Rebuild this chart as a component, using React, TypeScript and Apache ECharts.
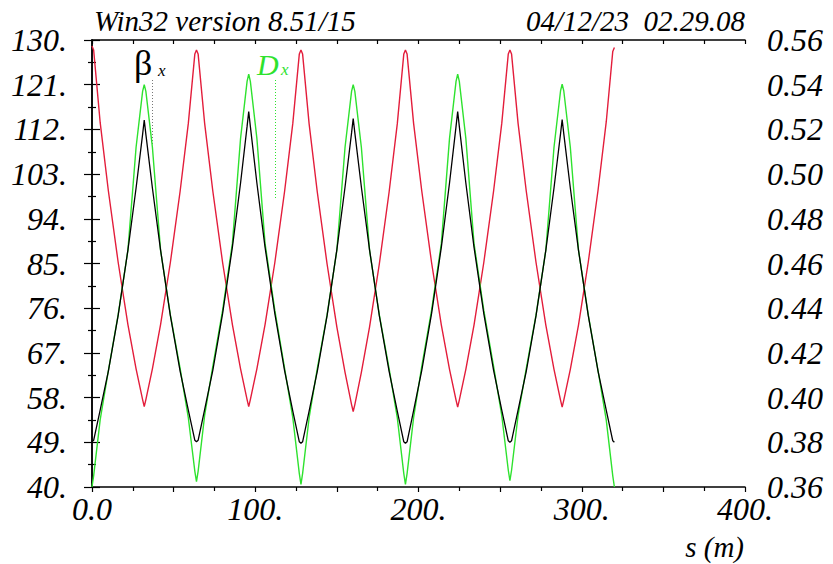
import React, { useEffect, useRef } from "react";
import * as echarts from "echarts";

// s positions (m)
const sPos = [
  0, 1, 5, 10, 16, 22, 27, 31,
  32, 33, 37, 42, 48, 54, 59, 63,
  64, 65, 69, 74, 80, 86, 91, 95,
  96, 97, 101, 106, 112, 118, 123, 127,
  128, 129, 133, 138, 144, 150, 155, 159,
  160, 161, 165, 170, 176, 182, 187, 191,
  192, 193, 197, 202, 208, 214, 219, 223,
  224, 225, 229, 234, 240, 246, 251, 255,
  256, 257, 261, 266, 272, 278, 283, 287,
  288, 289, 293, 298, 304, 310, 315, 319,
  320,
];

// beta_x (m) – black, left axis
const betaX = [
  49.1, 49.4, 55.5, 63.3, 74.5, 87.7, 100.2, 111.0,
  113.9, 111.0, 100.2, 87.7, 74.5, 63.3, 55.5, 49.4,
  49.1, 49.4, 55.6, 63.5, 74.9, 88.3, 101.2, 112.6,
  115.6, 112.6, 101.2, 88.3, 74.9, 63.4, 55.3, 49.1,
  48.8, 49.1, 55.3, 63.3, 74.5, 87.8, 100.4, 111.3,
  114.2, 111.3, 100.4, 87.8, 74.5, 63.3, 55.3, 49.1,
  48.8, 49.1, 55.4, 63.5, 74.9, 88.3, 101.2, 112.6,
  115.6, 112.6, 101.2, 88.3, 74.9, 63.5, 55.5, 49.3,
  49.0, 49.3, 55.5, 63.3, 74.5, 87.7, 100.2, 111.1,
  114.0, 111.1, 100.2, 87.7, 74.5, 63.3, 55.5, 49.3,
  49.0,
];

// beta_y (m) – red, left axis
const betaY = [
  128.8, 128.0, 113.4, 99.7, 85.3, 72.7, 63.8, 57.6,
  56.2, 57.6, 63.8, 72.7, 85.2, 99.6, 113.2, 127.2,
  128.0, 127.2, 113.2, 99.6, 85.2, 72.7, 63.8, 57.6,
  56.2, 57.6, 63.8, 72.7, 85.2, 99.6, 113.2, 127.2,
  128.0, 127.2, 113.1, 99.4, 84.9, 72.2, 63.1, 56.6,
  55.2, 56.6, 63.1, 72.2, 84.9, 99.4, 113.1, 127.2,
  128.0, 127.2, 113.2, 99.6, 85.2, 72.6, 63.7, 57.5,
  56.1, 57.5, 63.7, 72.6, 85.2, 99.6, 113.2, 127.2,
  128.0, 127.2, 113.2, 99.6, 85.2, 72.6, 63.7, 57.5,
  56.1, 57.5, 63.7, 72.6, 85.3, 99.8, 113.5, 127.7,
  128.5,
];

// D_x (m) – green, right axis
const dispX = [
  0.360, 0.365, 0.390, 0.412, 0.437, 0.466, 0.512, 0.537,
  0.540, 0.537, 0.512, 0.466, 0.437, 0.413, 0.391, 0.367,
  0.3624, 0.367, 0.392, 0.414, 0.439, 0.469, 0.516, 0.5415,
  0.5447, 0.5415, 0.516, 0.469, 0.439, 0.413, 0.391, 0.366,
  0.3612, 0.366, 0.391, 0.413, 0.437, 0.466, 0.512, 0.537,
  0.540, 0.537, 0.512, 0.466, 0.437, 0.413, 0.391, 0.366,
  0.3612, 0.366, 0.391, 0.414, 0.439, 0.469, 0.516, 0.5415,
  0.5447, 0.5415, 0.516, 0.469, 0.439, 0.414, 0.392, 0.3675,
  0.3628, 0.3675, 0.392, 0.413, 0.437, 0.466, 0.512, 0.5372,
  0.5402, 0.5372, 0.512, 0.466, 0.437, 0.412, 0.390, 0.365,
  0.360,
];

// left axis: labels 40..130 every 9
const leftMin = 40;
const leftStep = 9;
const leftSteps = 10;
const rightMin = 0.36;
const rightMax = 0.56;
const rightStep = 0.02;
const sMax = 400;

const FONT = '"Liberation Serif", "Times New Roman", serif';
const RED = "#e31d3b";
const GREEN = "#2ee22e";

export default function App() {
  const ref = useRef<HTMLDivElement>(null);
  useEffect(() => {
    if (!ref.current) return;
    const chart = echarts.init(ref.current, null, { renderer: "svg" });
    const labelStyle = {
      color: "#000",
      fontFamily: FONT,
      fontStyle: "italic" as const,
      fontSize: 32,
    };
    const axisLine = { show: true, lineStyle: { color: "#000", width: 1.5 } };
    const tickLine = { color: "#000", width: 1.2 };
    const option: any = {
      animation: false,
      backgroundColor: "#fff",
      grid: { left: 92, right: 88, top: 40, bottom: 77, containLabel: false },
      xAxis: [
        {
          type: "value",
          position: "bottom",
          min: 0,
          max: sMax,
          interval: 50,
          axisLine,
          axisTick: { show: true, length: 5, lineStyle: tickLine },
          minorTick: { show: true, splitNumber: 2, length: 4, lineStyle: tickLine },
          splitLine: { show: false },
          axisLabel: {
            ...labelStyle,
            margin: 6,
            formatter: (v: number) => (v % 100 === 0 ? (v === 0 ? "0.0" : v + ".") : ""),
          },
        },
        {
          type: "value",
          position: "top",
          min: 0,
          max: sMax,
          interval: 50,
          axisLine,
          axisTick: { show: true, inside: true, length: 4, lineStyle: tickLine },
          minorTick: { show: true, splitNumber: 2, length: 4, lineStyle: tickLine },
          splitLine: { show: false },
          axisLabel: { show: false },
        },
      ],
      yAxis: [
        {
          type: "value",
          position: "left",
          min: 0,
          max: leftStep * leftSteps,
          interval: leftStep,
          axisLine,
          axisTick: { show: true, length: 8, lineStyle: tickLine },
          minorTick: { show: true, splitNumber: 2, length: 4, lineStyle: tickLine },
          splitLine: { show: false },
          axisLabel: {
            ...labelStyle,
            margin: 25,
            formatter: (v: number) => Math.round(v + leftMin) + ".",
          },
        },
        {
          type: "value",
          position: "right",
          min: rightMin,
          max: rightMax,
          interval: rightStep,
          axisLine,
          axisTick: { show: true, length: 8, lineStyle: tickLine },
          minorTick: { show: true, splitNumber: 2, length: 4, lineStyle: tickLine },
          splitLine: { show: false },
          axisLabel: {
            ...labelStyle,
            margin: 22,
            formatter: (v: number) => v.toFixed(2),
          },
        },
      ],
      series: [
        {
          name: "betay",
          type: "line",
          xAxisIndex: 0,
          yAxisIndex: 0,
          symbol: "none",
          lineStyle: { color: RED, width: 1.4 },
          data: sPos.map((s, i) => [s, betaY[i] - leftMin]),
          z: 2,
        },
        {
          name: "Dx",
          type: "line",
          xAxisIndex: 0,
          yAxisIndex: 1,
          symbol: "none",
          lineStyle: { color: GREEN, width: 1.4 },
          data: sPos.map((s, i) => [s, dispX[i]]),
          z: 3,
        },
        {
          name: "betax",
          type: "line",
          xAxisIndex: 0,
          yAxisIndex: 0,
          symbol: "none",
          lineStyle: { color: "#000", width: 1.3 },
          data: sPos.map((s, i) => [s, betaX[i] - leftMin]),
          z: 4,
        },
      ],
      graphic: [
        {
          type: "text",
          x: 94,
          y: 21,
          style: {
            text: "Win32 version 8.51/15",
            fill: "#000",
            font: `italic 29px ${FONT}`,
            align: "left",
            verticalAlign: "middle",
          },
        },
        {
          type: "text",
          x: 745,
          y: 21,
          style: {
            text: "04/12/23  02.29.08",
            fill: "#000",
            font: `italic 29px ${FONT}`,
            align: "right",
            verticalAlign: "middle",
          },
        },
        {
          type: "text",
          x: 744,
          y: 547,
          style: {
            text: "s (m)",
            fill: "#000",
            font: `italic 29px ${FONT}`,
            align: "right",
            verticalAlign: "middle",
          },
        },
        {
          type: "text",
          x: 134,
          y: 63,
          style: {
            text: "β",
            fill: "#000",
            font: `36px ${FONT}`,
            align: "left",
            verticalAlign: "middle",
          },
        },
        {
          type: "text",
          x: 158,
          y: 70,
          style: {
            text: "x",
            fill: "#000",
            font: `italic 17px ${FONT}`,
            align: "left",
            verticalAlign: "middle",
          },
        },
        {
          type: "line",
          shape: { x1: 152.5, y1: 80, x2: 152.5, y2: 150 },
          style: { stroke: "#777", lineWidth: 1, lineDash: [1, 2] },
        },
        {
          type: "text",
          x: 257,
          y: 64,
          style: {
            text: "D",
            fill: GREEN,
            font: `italic 30px ${FONT}`,
            align: "left",
            verticalAlign: "middle",
          },
        },
        {
          type: "text",
          x: 281,
          y: 69,
          style: {
            text: "x",
            fill: GREEN,
            font: `italic 17px ${FONT}`,
            align: "left",
            verticalAlign: "middle",
          },
        },
        {
          type: "line",
          shape: { x1: 275.5, y1: 80, x2: 275.5, y2: 200 },
          style: { stroke: GREEN, lineWidth: 1, lineDash: [1, 2] },
        },
      ],
    };
    chart.setOption(option);
    return () => chart.dispose();
  }, []);
  return (
    <div
      ref={ref}
      style={{ position: "absolute", left: 0, top: 0, width: 833, height: 564 }}
    />
  );
}
